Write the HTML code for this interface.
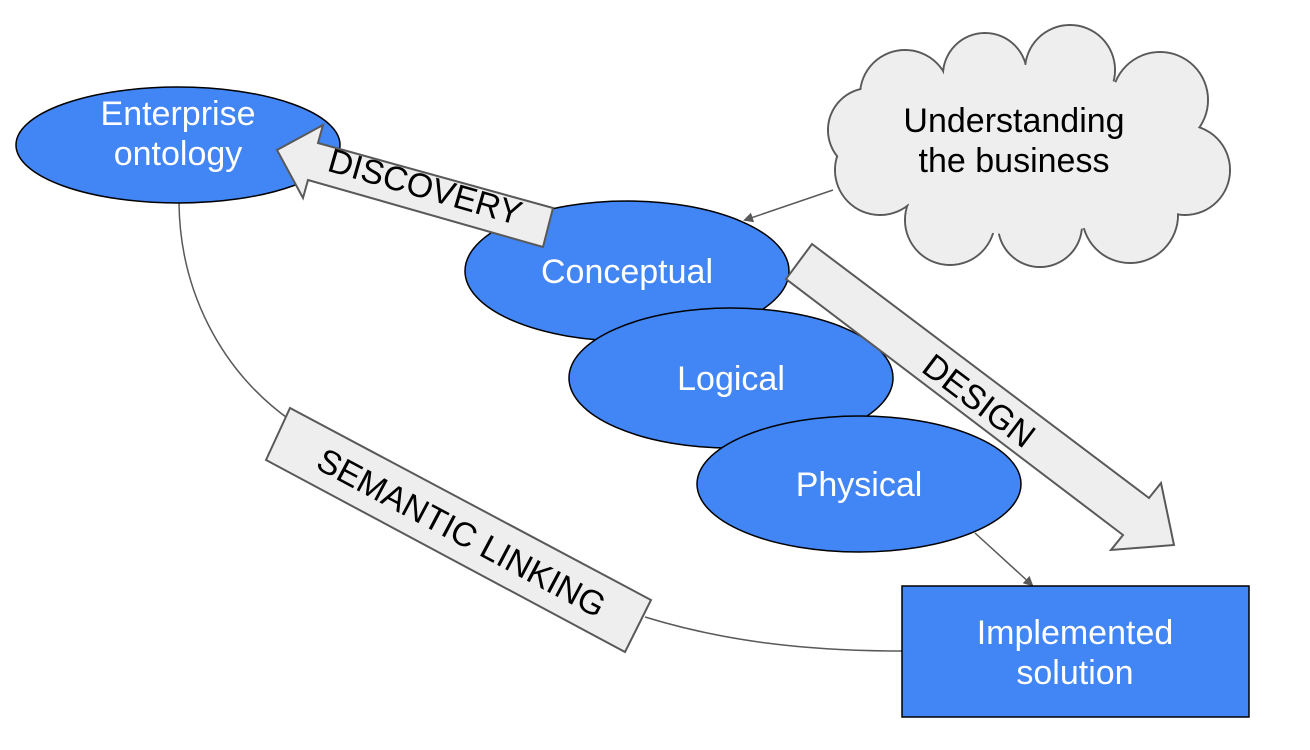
<!DOCTYPE html>
<html><head><style>body{margin:0;background:#fff}svg{display:block}</style></head><body>
<svg width="1310" height="750" viewBox="0 0 1310 750" xmlns="http://www.w3.org/2000/svg" font-family="Liberation Sans, sans-serif">
<defs><marker id="a" markerWidth="10" markerHeight="10" refX="8" refY="5" orient="auto" markerUnits="userSpaceOnUse"><path d="M0,0 L10,5 L0,10 z" fill="#595959"/></marker></defs>
<path d="M179,203 C180,290 220,370 290,420" fill="none" stroke="#595959" stroke-width="1.5"/>
<path d="M645,617 C720,640 800,651 902,651" fill="none" stroke="#595959" stroke-width="1.5"/>
<g stroke="#595959" stroke-width="2" fill="#eeeeee">
<circle cx="905" cy="95" r="45"/><circle cx="985" cy="75" r="42"/><circle cx="1070" cy="70" r="45"/>
<circle cx="1160" cy="100" r="48"/><circle cx="1185" cy="170" r="45"/><circle cx="1130" cy="215" r="48"/>
<circle cx="1040" cy="225" r="42"/><circle cx="950" cy="220" r="45"/><circle cx="880" cy="170" r="45"/><circle cx="870" cy="130" r="42"/>
</g>
<g fill="#eeeeee">
<circle cx="905" cy="95" r="44"/><circle cx="985" cy="75" r="41"/><circle cx="1070" cy="70" r="44"/>
<circle cx="1160" cy="100" r="47"/><circle cx="1185" cy="170" r="44"/><circle cx="1130" cy="215" r="47"/>
<circle cx="1040" cy="225" r="41"/><circle cx="950" cy="220" r="44"/><circle cx="880" cy="170" r="44"/><circle cx="870" cy="130" r="41"/>
<ellipse cx="1025" cy="150" rx="150" ry="85"/>
</g>
<text x="1014" y="132" font-size="34" text-anchor="middle">Understanding</text>
<text x="1014" y="172" font-size="34" text-anchor="middle">the business</text>
<line x1="833" y1="190" x2="745" y2="220" stroke="#595959" stroke-width="1.5" marker-end="url(#a)"/>
<g stroke="#000" stroke-width="1.5" fill="#4285f4">
<ellipse cx="178" cy="145" rx="162" ry="58"/>
<ellipse cx="627" cy="271" rx="162" ry="70"/>
<ellipse cx="731" cy="378" rx="162" ry="70"/>
</g>
<polygon points="812,244 1149,498 1161,483 1174,545 1111,550 1123,535 786,279" fill="#eeeeee" stroke="#595959" stroke-width="2"/>
<ellipse cx="859" cy="484" rx="162" ry="68" fill="#4285f4" stroke="#000" stroke-width="1.5"/>
<polygon points="277,150 323,125 318,143 553,208 543,247 308,180 303,198" fill="#eeeeee" stroke="#595959" stroke-width="2"/>
<text x="422" y="198" font-size="34" text-anchor="middle" transform="rotate(16 422 198)">DISCOVERY</text>
<text x="972" y="410" font-size="34" text-anchor="middle" transform="rotate(37 972 410)">DESIGN</text>
<polygon points="266,460 290,408 651,600 625,652" fill="#eeeeee" stroke="#595959" stroke-width="2"/>
<text x="456" y="543" font-size="34" text-anchor="middle" transform="rotate(28 456 543)">SEMANTIC LINKING</text>
<g fill="#fff" font-size="34" text-anchor="middle">
<text x="178" y="125">Enterprise</text><text x="178" y="165">ontology</text>
<text x="627" y="283">Conceptual</text>
<text x="731" y="390">Logical</text>
<text x="859" y="496">Physical</text>
</g>
<line x1="975" y1="533" x2="1032" y2="585" stroke="#595959" stroke-width="1.5" marker-end="url(#a)"/>
<rect x="902" y="586" width="347" height="131" fill="#4285f4" stroke="#000" stroke-width="1.5"/>
<text x="1075" y="644" font-size="34" fill="#fff" text-anchor="middle">Implemented</text>
<text x="1075" y="684" font-size="34" fill="#fff" text-anchor="middle">solution</text>
</svg>
</body></html>
